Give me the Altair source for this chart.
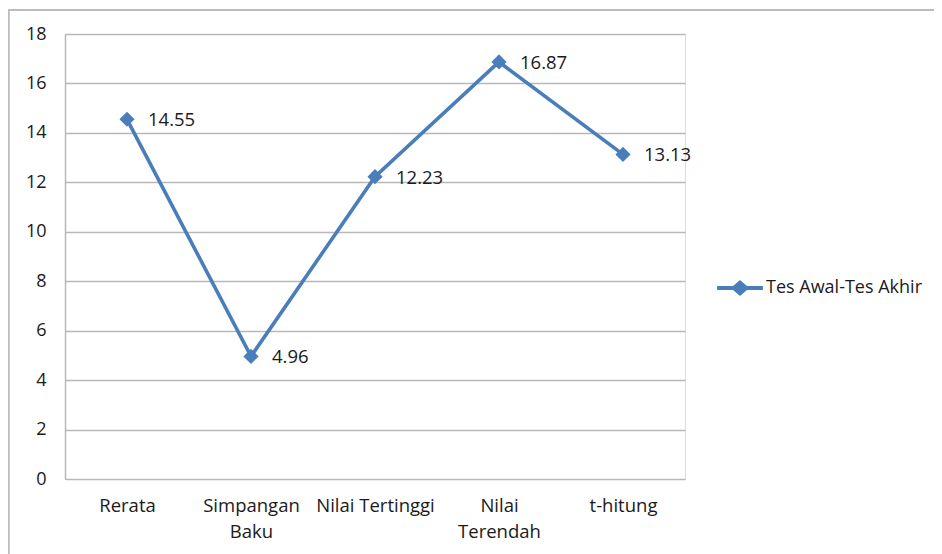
import altair as alt
import pandas as pd

categories = ["Rerata", "Simpangan Baku", "Nilai Tertinggi", "Nilai Terendah", "t-hitung"]
values = [14.55, 4.96, 12.23, 16.87, 13.13]
labels = ["14.55", "4.96", "12.23", "16.87", "13.13"]
series = "Tes Awal-Tes Akhir"
y_ticks = [0, 2, 4, 6, 8, 10, 12, 14, 16, 18]

df = pd.DataFrame({"cat": categories, "val": values, "lab": labels, "series": [series] * len(categories)})

FONT = "Open Sans"
BLUE = "#4a7ebb"
GRID = "#b8b8b8"
TXT = "#1a1a1a"

x = alt.X("cat:N", sort=categories, title=None,
          scale=alt.Scale(paddingInner=0, paddingOuter=0),
          axis=alt.Axis(labelAngle=0, ticks=False, domain=False, grid=False, labelPadding=17,
                        labelFont=FONT, labelFontSize=18.5, labelColor=TXT,
                        labelLineHeight=26,
                        labelExpr="datum.label == 'Simpangan Baku' ? ['Simpangan', 'Baku'] : datum.label == 'Nilai Terendah' ? ['Nilai', 'Terendah'] : datum.label"))
y = alt.Y("val:Q", title=None,
          scale=alt.Scale(domain=[0, 18], nice=False),
          axis=alt.Axis(values=y_ticks, ticks=False, domain=True, domainColor=GRID, domainWidth=1.5,
                        grid=True, gridColor=GRID, gridWidth=1.5, labelPadding=19,
                        labelFont=FONT, labelFontSize=18, labelColor=TXT))

color = alt.Color("series:N", scale=alt.Scale(range=[BLUE]), title=None,
                  legend=alt.Legend(orient="none", legendX=650, legendY=229,
                                    symbolType="M-1,0H1M-0.27,0L0,-0.23L0.27,0L0,0.23Z",
                                    symbolSize=2100, symbolStrokeWidth=4,
                                    symbolFillColor=BLUE, symbolStrokeColor=BLUE,
                                    labelFont=FONT, labelFontSize=18, labelColor=TXT,
                                    labelOffset=1, labelLimit=400))

base = alt.Chart(df)
line = base.mark_line(strokeWidth=3.6).encode(x=x, y=y, color=color)
pts = base.mark_point(shape="diamond", filled=True, size=230, opacity=1).encode(
    x=x, y=y, color=alt.Color("series:N", scale=alt.Scale(range=[BLUE]), legend=None))
txt = base.mark_text(align="left", baseline="middle", dx=21, dy=1, font=FONT, fontSize=18.5,
                     color=TXT).encode(x=x, y=y, text="lab:N")
border = alt.Chart(df).mark_rule(color="#bdbdbd", strokeWidth=1.5).encode(
    x=alt.value(-56.5), y=alt.value(-24), y2=alt.value(600))
border_top = alt.Chart(df).mark_rule(color="#bdbdbd", strokeWidth=1.5).encode(
    x=alt.value(-56.5), x2=alt.value(900), y=alt.value(-24))

chart = alt.layer(border, border_top, line, pts, txt).properties(
    width=620, height=445,
    autosize=alt.AutoSizeParams(type="none"),
    padding={"left": 57, "top": 26, "right": 249, "bottom": 75},
).configure_view(stroke=None).configure(background="white")

chart.save("out.html", embed_options={"renderer": "svg", "actions": False})
